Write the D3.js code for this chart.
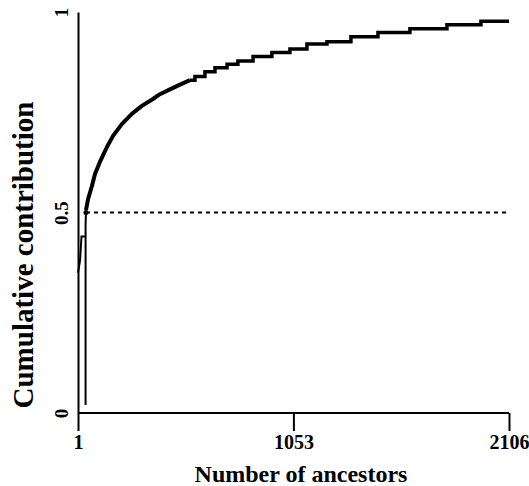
<!DOCTYPE html>
<html>
<head>
<meta charset="utf-8">
<script src="https://cdn.jsdelivr.net/npm/d3@7"></script>
<style>
  body { margin: 0; background: #fff; }
  text { font-family: "Liberation Serif", "Times New Roman", serif; font-weight: bold; }
</style>
</head>
<body>
<div id="chart"></div>
<script>
// tick labels
const xTicks = [1, 1053, 2106];
const yTicks = [0, 0.5, 1];

// irregular start of the curve
const startX = [1, 11, 18, 38, 38, 38, 40];
const startY = [0.35, 0.38, 0.44, 0.44, 0.02, 0.47, 0.50];

// steep rising part
const riseX = [40, 50, 69, 84, 108, 143, 172, 216, 264, 313, 367, 401, 450, 499, 548];
const riseY = [0.506, 0.533, 0.566, 0.596, 0.626, 0.664, 0.691, 0.721, 0.746, 0.766, 0.783, 0.795, 0.807, 0.819, 0.830];

// flat staircase part
const stepX = [548, 572, 621, 670, 729, 782, 856, 948, 1036, 1119, 1217, 1334, 1466, 1622, 1803, 1969, 2106];
const stepY = [0.830, 0.839, 0.851, 0.861, 0.870, 0.878, 0.889, 0.899, 0.908, 0.920, 0.926, 0.938, 0.949, 0.958, 0.968, 0.977, 0.977];

// half-contribution reference line
const halfX = [40, 2106];
const halfY = 0.5;

const W = 529, H = 486;
const margin = {top: 12, right: 20, bottom: 73, left: 78};

const svg = d3.select("#chart").append("svg")
    .attr("width", W).attr("height", H)
    .style("background", "#fff");

const x = d3.scaleLinear().domain([1, 2106]).range([margin.left, W - margin.right]);
const y = d3.scaleLinear().domain([0, 1]).range([H - margin.bottom, margin.top]);

// x axis: ticks pointing down
const xAxis = svg.append("g")
    .attr("transform", "translate(0," + y(0) + ")")
    .call(d3.axisBottom(x).tickValues(xTicks).tickSize(18).tickPadding(4).tickFormat(d3.format("d")));
xAxis.select(".domain").attr("stroke-width", 2).attr("d", "M" + x(1) + ",0H" + x(2106));
xAxis.selectAll(".tick line").attr("stroke-width", 2);
xAxis.selectAll(".tick text").attr("font-size", 20).attr("fill", "#000")
    .attr("font-family", "Liberation Serif, serif").attr("font-weight", "bold");

// y axis: no visible ticks, rotated labels
const yAxis = svg.append("g")
    .attr("transform", "translate(" + x(1) + ",0)")
    .call(d3.axisLeft(y).tickValues(yTicks).tickSize(0).tickPadding(10).tickFormat(d => d3.format("")(d)));
yAxis.select(".domain").attr("stroke-width", 2);
yAxis.selectAll(".tick text")
    .attr("font-size", 19).attr("fill", "#000")
    .attr("font-family", "Liberation Serif, serif").attr("font-weight", "bold")
    .attr("text-anchor", "middle")
    .attr("x", 0).attr("dy", 0)
    .attr("transform", "translate(-10,0) rotate(-90)");

// axis titles
svg.append("text")
    .attr("x", 301).attr("y", 482)
    .attr("text-anchor", "middle")
    .attr("font-size", 24)
    .text("Number of ancestors");

svg.append("text")
    .attr("transform", "translate(33,255) rotate(-90)")
    .attr("text-anchor", "middle")
    .attr("font-size", 29)
    .text("Cumulative contribution");

// dashed half line
svg.append("line")
    .attr("x1", x(halfX[0])).attr("x2", x(halfX[1]))
    .attr("y1", y(halfY)).attr("y2", y(halfY))
    .attr("stroke", "#000").attr("stroke-width", 2)
    .attr("stroke-dasharray", "4,4");

const lin = d3.line().x(d => x(d[0])).y(d => y(d[1]));
const stp = d3.line().x(d => x(d[0])).y(d => y(d[1])).curve(d3.curveStepAfter);

svg.append("path")
    .datum(startX.map((v, i) => [v, startY[i]]))
    .attr("d", lin).attr("fill", "none")
    .attr("stroke", "#000").attr("stroke-width", 2);

svg.append("path")
    .datum(riseX.map((v, i) => [v, riseY[i]]))
    .attr("d", lin).attr("fill", "none")
    .attr("stroke", "#000").attr("stroke-width", 4)
    .attr("stroke-linejoin", "round");

svg.append("path")
    .datum(stepX.map((v, i) => [v, stepY[i]]))
    .attr("d", stp).attr("fill", "none")
    .attr("stroke", "#000").attr("stroke-width", 3.5);

svg.append("circle")
    .attr("cx", x(halfX[0])).attr("cy", y(halfY)).attr("r", 2.5)
    .attr("fill", "#000");
</script>
</body>
</html>
